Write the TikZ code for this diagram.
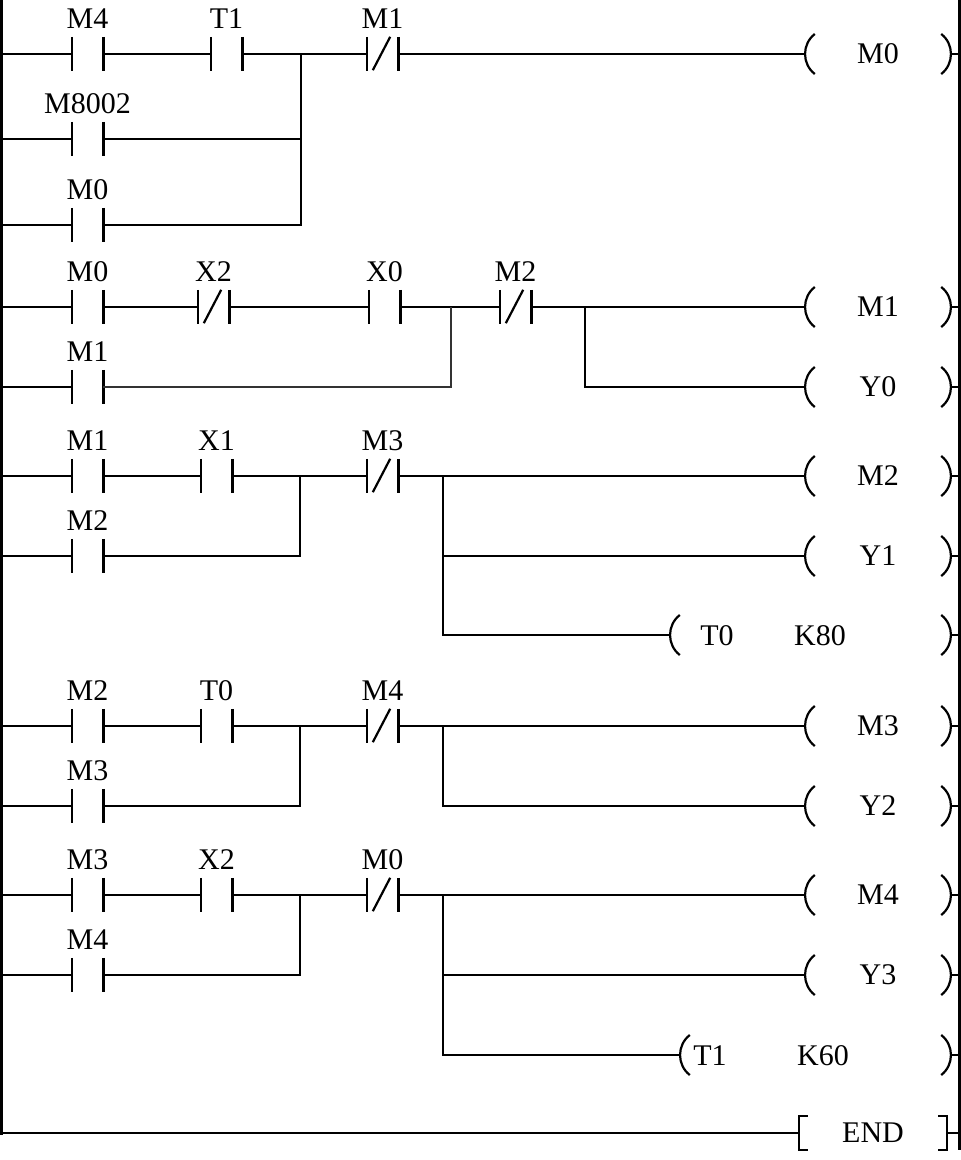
\documentclass[tikz,border=0pt]{standalone}
\usepackage{fontspec}
\setmainfont{Liberation Serif}
\usetikzlibrary{calc}
\tikzset{
  wire/.style={line width=2.6pt},
  thinwire/.style={line width=1.8pt, black!80},
  rail/.style={line width=3.2pt},
  brk/.style={line width=2.2pt},
  ctbox/.style={rectangle, inner sep=0pt, minimum width=31pt, minimum height=34pt, draw=none},
  lbl/.style={anchor=base, inner sep=0pt, font=\fontsize{30}{36}\selectfont},
  coilbox/.style={rectangle, inner sep=0pt, minimum height=40pt, draw=none, font=\fontsize{30}{36}\selectfont},
  ctext/.style={anchor=base, inner sep=0pt, font=\fontsize{30}{36}\selectfont},
}
% normally open contact: name, left x, y, label
\newcommand\NOc[4]{%
  \node[ctbox] (#1) at (#2+15.5,#3) {};
  \draw[wire] (#1.north west) -- (#1.south west) (#1.north east) -- (#1.south east);
  \node[lbl] (#1-l) at ([yshift=8pt]#1.north) {#4};
}
% normally closed contact
\newcommand\NCc[4]{%
  \NOc{#1}{#2}{#3}{#4}
  \draw[brk] ([xshift=6pt,yshift=1pt]#1.south west) -- ([xshift=-8pt]#1.north east);
}
% coil: name, left x, right x, y, text
\newcommand\plccoil[5]{%
  \pgfmathsetmacro\cwid{#3-#2}
  \pgfmathsetmacro\cmid{(#2+#3)/2}
  \node[coilbox, minimum width=\cwid pt] (#1) at (\cmid,#4) {#5};
  \draw[brk] ([xshift=10pt,yshift=20pt]#1.west) .. controls ([xshift=-3pt,yshift=10pt]#1.west) and ([xshift=-3pt,yshift=-10pt]#1.west) .. ([xshift=10pt,yshift=-20pt]#1.west);
  \draw[brk] ([xshift=-10pt,yshift=20pt]#1.east) .. controls ([xshift=3pt,yshift=10pt]#1.east) and ([xshift=3pt,yshift=-10pt]#1.east) .. ([xshift=-10pt,yshift=-20pt]#1.east);
}
% timer coil: name, xl, xr, y, text1, x1, text2, x2
\newcommand\tmrcoil[8]{%
  \plccoil{#1}{#2}{#3}{#4}{}
  \node[ctext] (#1-a) at (#6,#4+10) {#5};
  \node[ctext] (#1-b) at (#8,#4+10) {#7};
}
\begin{document}
\begin{tikzpicture}[x=1pt,y=-1pt]
\useasboundingbox (0,0) rectangle (961,1160);
% rails
\coordinate (LT) at (1.6,0); \coordinate (LB) at (1.6,1135);
\coordinate (RT) at (959.4,0); \coordinate (RB) at (959.4,1150);
\draw[rail] (LT) -- (LB);
\draw[rail] (RT) -- (RB);

% ---------- rung 1
\NOc{a1}{72}{54}{M4}
\NOc{a2}{211}{54}{T1}
\NCc{a3}{367}{54}{M1}
\NOc{a4}{72}{139}{M8002}
\NOc{a5}{72}{225}{M0}
\plccoil{c1}{805}{951}{54}{M0}
\coordinate (j1) at (301,54);
\draw[wire] (LT |- a1) -- (a1.west) (a1.east) -- (a2.west) (a2.east) -- (j1) -- (a3.west) (a3.east) -- (c1.west) (c1.east) -- (RT |- c1);
\draw[wire] (LT |- a4) -- (a4.west) (a4.east) -- (j1 |- a4);
\draw[wire] (LT |- a5) -- (a5.west) (a5.east) -- (j1 |- a5) -- (j1);

% ---------- rung 2
\NOc{b1}{72}{307}{M0}
\NCc{b2}{198}{307}{X2}
\NOc{b3}{369}{307}{X0}
\NCc{b4}{500}{307}{M2}
\NOc{b5}{72}{387}{M1}
\plccoil{c2}{805}{951}{307}{M1}
\plccoil{c3}{805}{951}{387}{Y0}
\coordinate (j2) at (451,307); \coordinate (j3) at (585,307);
\draw[wire] (LT |- b1) -- (b1.west) (b1.east) -- (b2.west) (b2.east) -- (b3.west) (b3.east) -- (j2) -- (b4.west) (b4.east) -- (j3) -- (c2.west) (c2.east) -- (RT |- c2);
\draw[wire] (LT |- b5) -- (b5.west);
\draw[thinwire] (b5.east) -- (j2 |- b5) -- (j2);
\draw[wire] (j3) -- (j3 |- c3) -- (c3.west) (c3.east) -- (RT |- c3);

% ---------- rung 3
\NOc{d1}{72}{476}{M1}
\NOc{d2}{201}{476}{X1}
\NCc{d3}{367}{476}{M3}
\NOc{d4}{72}{556}{M2}
\plccoil{c4}{805}{951}{476}{M2}
\plccoil{c5}{805}{951}{556}{Y1}
\tmrcoil{t0}{670}{951}{635}{T0}{717}{K80}{820}
\coordinate (j4) at (300,476); \coordinate (j5) at (443,476);
\draw[wire] (LT |- d1) -- (d1.west) (d1.east) -- (d2.west) (d2.east) -- (j4) -- (d3.west) (d3.east) -- (j5) -- (c4.west) (c4.east) -- (RT |- c4);
\draw[wire] (LT |- d4) -- (d4.west) (d4.east) -- (j4 |- d4) -- (j4);
\draw[wire] (j5) -- (j5 |- t0) -- (t0.west) (j5 |- c5) -- (c5.west) (c5.east) -- (RT |- c5) (t0.east) -- (RT |- t0);

% ---------- rung 4
\NOc{e1}{72}{726}{M2}
\NOc{e2}{201}{726}{T0}
\NCc{e3}{367}{726}{M4}
\NOc{e4}{72}{806}{M3}
\plccoil{c6}{805}{951}{726}{M3}
\plccoil{c7}{805}{951}{806}{Y2}
\coordinate (j6) at (300,726); \coordinate (j7) at (443,726);
\draw[wire] (LT |- e1) -- (e1.west) (e1.east) -- (e2.west) (e2.east) -- (j6) -- (e3.west) (e3.east) -- (j7) -- (c6.west) (c6.east) -- (RT |- c6);
\draw[wire] (LT |- e4) -- (e4.west) (e4.east) -- (j6 |- e4) -- (j6);
\draw[wire] (j7) -- (j7 |- c7) -- (c7.west) (c7.east) -- (RT |- c7);

% ---------- rung 5
\NOc{f1}{72}{895}{M3}
\NOc{f2}{201}{895}{X2}
\NCc{f3}{367}{895}{M0}
\NOc{f4}{72}{975}{M4}
\plccoil{c8}{805}{951}{895}{M4}
\plccoil{c9}{805}{951}{975}{Y3}
\tmrcoil{t1}{680}{951}{1055}{T1}{710}{K60}{823}
\coordinate (j8) at (300,895); \coordinate (j9) at (443,895);
\draw[wire] (LT |- f1) -- (f1.west) (f1.east) -- (f2.west) (f2.east) -- (j8) -- (f3.west) (f3.east) -- (j9) -- (c8.west) (c8.east) -- (RT |- c8);
\draw[wire] (LT |- f4) -- (f4.west) (f4.east) -- (j8 |- f4) -- (j8);
\draw[wire] (j9) -- (j9 |- t1) -- (t1.west) (j9 |- c9) -- (c9.west) (c9.east) -- (RT |- c9) (t1.east) -- (RT |- t1);

% ---------- END
\node[coilbox, minimum width=148pt] (en) at (873,1133) {END};
\draw[brk] ([xshift=9pt,yshift=17pt]en.west) -- ([yshift=17pt]en.west) -- ([yshift=-17pt]en.west) -- ([xshift=9pt,yshift=-17pt]en.west);
\draw[brk] ([xshift=-9pt,yshift=17pt]en.east) -- ([yshift=17pt]en.east) -- ([yshift=-17pt]en.east) -- ([xshift=-9pt,yshift=-17pt]en.east);
\draw[wire] (LT |- en) -- (en.west) (en.east) -- (RT |- en);
\end{tikzpicture}
\end{document}
